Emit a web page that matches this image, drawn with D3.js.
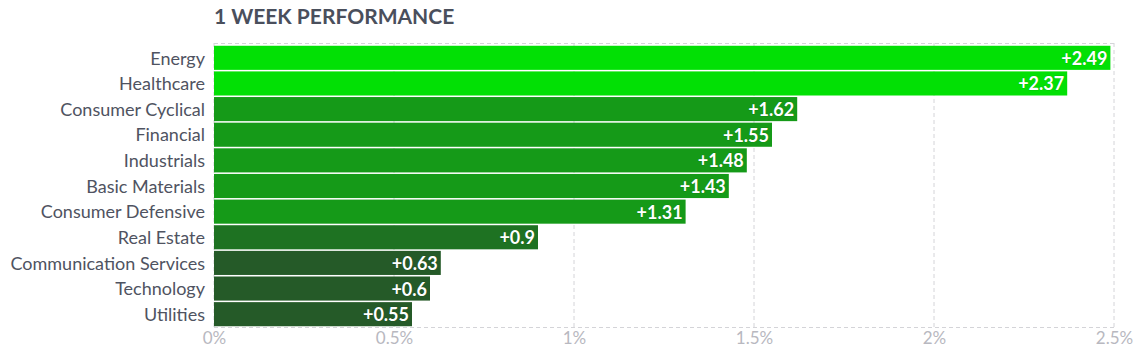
<!DOCTYPE html>
<html>
<head>
<meta charset="utf-8">
<script src="https://cdn.jsdelivr.net/npm/d3@7/dist/d3.min.js"></script>
<style>
  html, body { margin: 0; padding: 0; background: #fff; }
  svg { display: block; font-family: Lato, "Open Sans", sans-serif; }
</style>
</head>
<body>
<svg id="chart" width="1142" height="360"></svg>
<script>
const title = "1 WEEK PERFORMANCE";
const categories = ["Energy", "Healthcare", "Consumer Cyclical", "Financial", "Industrials",
  "Basic Materials", "Consumer Defensive", "Real Estate", "Communication Services", "Technology", "Utilities"];
const values = [2.49, 2.37, 1.62, 1.55, 1.48, 1.43, 1.31, 0.9, 0.63, 0.6, 0.55];
const tickValues = [0, 0.5, 1, 1.5, 2, 2.5];
const tickLabels = ["0%", "0.5%", "1%", "1.5%", "2%", "2.5%"];

const svg = d3.select("#chart");
const margin = { left: 214, right: 28, top: 45, bottom: 33 };
const W = 1142, H = 360;

const x = d3.scaleLinear().domain([0, 2.5]).range([margin.left, W - margin.right]);
const y = d3.scaleBand().domain(categories).range([margin.top, H - margin.bottom]).paddingInner(0.06).paddingOuter(0.03);

const color = d3.scaleThreshold().domain([0.8, 1, 2])
  .range(["#255a28", "#1e7222", "#159a18", "#02e005"]);

const gridTop = 43, gridBottom = 327;

// grid
const grid = svg.append("g");
grid.selectAll("line.v").data(tickValues).join("line")
  .attr("x1", d => x(d)).attr("x2", d => x(d))
  .attr("y1", gridTop).attr("y2", gridBottom)
  .attr("stroke", "#d4d4d8").attr("stroke-dasharray", "4,3").attr("stroke-width", 1);
grid.selectAll("line.h").data([gridTop, gridBottom]).join("line")
  .attr("x1", x(0)).attr("x2", x(2.5))
  .attr("y1", d => d + 0.5).attr("y2", d => d + 0.5)
  .attr("stroke", "#d4d4d8").attr("stroke-dasharray", "4,3").attr("stroke-width", 1);

// title
svg.append("text").attr("x", margin.left).attr("y", 24)
  .attr("font-size", 21).attr("font-weight", 700).attr("fill", "#4a4f5c")
  .text(title);

// bars
svg.append("g").selectAll("rect").data(values).join("rect")
  .attr("x", x(0))
  .attr("y", (d, i) => y(categories[i]))
  .attr("width", d => x(d) - x(0))
  .attr("height", y.bandwidth())
  .attr("fill", d => color(d));

// value labels
svg.append("g").selectAll("text").data(values).join("text")
  .attr("x", d => x(d) - 3)
  .attr("y", (d, i) => y(categories[i]) + y.bandwidth() / 2 + 0.5)
  .attr("dy", "0.36em")
  .attr("text-anchor", "end")
  .attr("font-size", 18).attr("font-weight", 700).attr("fill", "#fff")
  .style("paint-order", "stroke").attr("stroke", "rgba(0,0,0,0.15)").attr("stroke-width", 1)
  .text(d => "+" + d);

// category labels
const yAxis = d3.axisLeft(y).tickSize(0).tickPadding(9);
const ya = svg.append("g").attr("transform", `translate(${margin.left},1)`).call(yAxis);
ya.select(".domain").remove();
ya.selectAll("text").attr("font-size", 18).attr("fill", "#4f5361").attr("font-family", "Lato, sans-serif");

// x tick labels
const xAxis = d3.axisBottom(x).tickValues(tickValues).tickSize(0).tickPadding(0)
  .tickFormat((d, i) => tickLabels[i]);
const xa = svg.append("g").attr("transform", `translate(0,${gridBottom})`).call(xAxis);
xa.select(".domain").remove();
xa.selectAll("text").attr("font-size", 17).attr("fill", "#b8b8c0").attr("font-family", "Lato, sans-serif")
  .attr("y", 5).attr("dy", "0.71em");
</script>
</body>
</html>
